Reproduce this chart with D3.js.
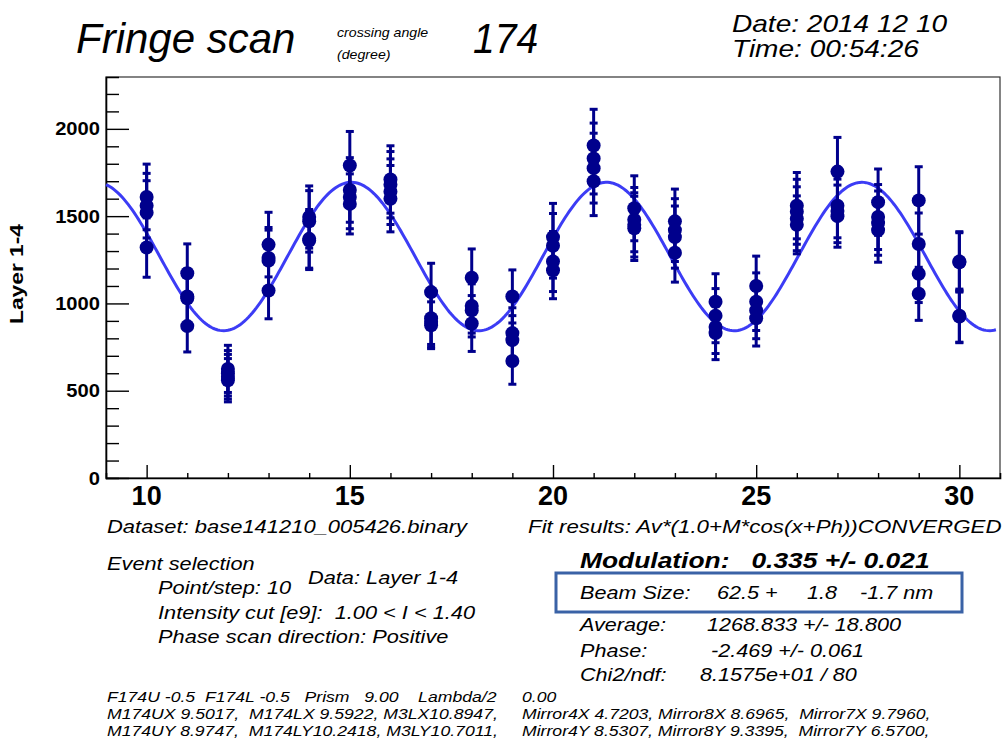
<!DOCTYPE html>
<html>
<head>
<meta charset="utf-8">
<script src="https://cdn.jsdelivr.net/npm/d3@7"></script>
<style>
  body { margin: 0; background: #fff; }
  text { font-family: "Liberation Sans", Arial, Helvetica, sans-serif; fill: #000; white-space: pre; }
</style>
</head>
<body>
<svg id="chart" width="1006" height="742"></svg>
<script>

// scan steps (phase, degree) and the events measured at each step
var steps = [10, 11, 12, 13, 14, 15, 16, 17, 18, 19, 20, 21, 22, 23, 24, 25, 26, 27, 28, 29, 30]

var counts = [
    [1610, 1560, 1520, 1320],
    [1173, 1040, 1030, 870],
    [625, 600, 580, 560],
    [1337, 1260, 1245, 1074],
    [1495, 1470, 1370, 1360],
    [1790, 1650, 1610, 1570],
    [1710, 1680, 1640, 1600],
    [1065, 915, 895, 875],
    [1147, 985, 960, 885],
    [1040, 830, 790, 670],
    [1380, 1330, 1240, 1190],
    [1905, 1830, 1775, 1700],
    [1545, 1480, 1450, 1430],
    [1470, 1420, 1380, 1290],
    [1010, 930, 865, 830],
    [1100, 1010, 960, 915],
    [1560, 1525, 1485, 1450],
    [1755, 1560, 1530, 1500],
    [1580, 1495, 1460, 1420],
    [1590, 1340, 1170, 1055],
    [1240, 1235, 930, 925]
]

var errors = [
    [188, 185, 183, 170],
    [168, 158, 158, 148],
    [135, 130, 128, 124],
    [185, 175, 175, 162],
    [178, 176, 168, 166],
    [195, 185, 182, 172],
    [193, 190, 188, 190],
    [165, 150, 145, 134],
    [165, 155, 152, 160],
    [152, 145, 140, 133],
    [193, 185, 172, 163],
    [207, 203, 200, 197],
    [186, 184, 184, 184],
    [185, 180, 178, 168],
    [160, 155, 152, 152],
    [171, 165, 162, 159],
    [190, 186, 183, 166],
    [196, 184, 182, 178],
    [190, 186, 184, 184],
    [193, 178, 165, 152],
    [171, 170, 152, 150]
]

// fit results: Av*(1.0+M*cos(x+Ph))
var fitAverage = 1268.833
var fitModulation = 0.335
var fitPhase = -2.469
var fitRange = [9, 30.9]

var xTickLabels = [10, 15, 20, 25, 30]
var yTickLabels = [0, 500, 1000, 1500, 2000]

// mirror / prism settings, left and right column
var summaryLeft = [
    "F174U -0.5  F174L -0.5   Prism   9.00    Lambda/2",
    "M174UX 9.5017,  M174LX 9.5922, M3LX10.8947,",
    "M174UY 8.9747,  M174LY10.2418, M3LY10.7011,"
]
var summaryRight = [
    "0.00",
    "Mirror4X 4.7203, Mirror8X 8.6965,  Mirror7X 9.7960,",
    "Mirror4Y 8.5307, Mirror8Y 9.3395,  Mirror7Y 6.5700,"
]


var svg = d3.select("#chart")
var frame = {left: 106, right: 1000, top: 77, bottom: 478}

var x = d3.scaleLinear().domain([9, 31]).range([frame.left, frame.right])
var y = d3.scaleLinear().domain([0, 2297]).range([frame.bottom, frame.top])

var markColor = "#00008c"
var curveColor = "#3c3cf5"

//Text helper: the ROOT fonts here are a bit wider than Arial, so stretch them
function put(str, px, py, size, sx, opts) {
    opts = opts || {}
    return svg.append("text")
        .attr("transform", "translate(" + px + "," + py + ")" + (opts.rotate ? " rotate(" + opts.rotate + ")" : "") + " scale(" + sx + ",1)")
        .attr("font-size", size)
        .attr("font-style", opts.italic === false ? "normal" : "italic")
        .attr("font-weight", opts.bold ? "bold" : "normal")
        .attr("text-anchor", opts.anchor || "start")
        .text(str)
}


// header
put("Fringe scan", 76, 53, 42, 1.0)
put("crossing angle", 337, 37, 12, 1.18)
put("(degree)", 337, 59, 12, 1.18)
put("174", 473, 53, 42, 0.93)
put("Date: 2014 12 10", 732, 32, 23, 1.22)
put("Time: 00:54:26", 732, 57, 23, 1.22)


// frame
svg.append("rect")
    .attr("x", frame.left)
    .attr("y", frame.top)
    .attr("width", frame.right - frame.left)
    .attr("height", frame.bottom - frame.top)
    .attr("fill", "none")
    .attr("stroke", "#333")
    .attr("stroke-width", 1.2)

// y axis: ticks inside the frame
var yAxis = d3.axisRight(y)
    .tickValues(d3.range(0, 2300, 100))
    .tickSize(13)
    .tickFormat("")
var gy = svg.append("g")
    .attr("transform", "translate(" + frame.left + ",0)")
    .call(yAxis)
gy.select(".domain").attr("stroke", "#000").attr("stroke-width", 1.6)
gy.selectAll(".tick line")
    .attr("stroke", "#000")
    .attr("stroke-width", 1.4)
    .attr("x2", function(d) { return d % 500 == 0 ? 23 : 13 })

gy.selectAll(".ylab")
    .data(yTickLabels)
    .enter()
    .append("text")
    .attr("class", "ylab")
    .attr("transform", function(d) { return "translate(" + (100 - frame.left) + "," + (y(d) + 6.5) + ") scale(1.12,1)" })
    .attr("text-anchor", "end")
    .attr("font-size", 18)
    .attr("font-weight", "bold")
    .text(function(d) { return d })

// x axis: ticks pointing up
var xAxis = d3.axisTop(x)
    .tickValues(d3.range(10, 31, 1))
    .tickSize(5)
    .tickFormat("")
var gx = svg.append("g")
    .attr("transform", "translate(0," + frame.bottom + ")")
    .call(xAxis)
gx.select(".domain").attr("stroke", "#000").attr("stroke-width", 1.6)
gx.selectAll(".tick line")
    .attr("stroke", "#000")
    .attr("stroke-width", 1.4)
    .attr("y2", function(d) { return d % 5 == 0 ? -13 : -5 })

gx.selectAll(".xlab")
    .data(xTickLabels)
    .enter()
    .append("text")
    .attr("class", "xlab")
    .attr("x", function(d) { return x(d) })
    .attr("y", 505 - frame.bottom)
    .attr("text-anchor", "middle")
    .attr("font-size", 27)
    .attr("font-weight", "bold")
    .text(function(d) { return d })

put("Layer 1-4", 23, 274, 19, 1.2, {italic: false, bold: true, anchor: "middle", rotate: -90})


// flatten the measurements into points
var points = []
steps.forEach(function(s, i) {
    counts[i].forEach(function(c, j) {
        points.push({step: s, count: c, err: errors[i][j]})
    })
})

var plot = svg.append("g")

// fitted curve
var fitLine = d3.line()
    .x(function(d) { return x(d) })
    .y(function(d) { return y(fitAverage * (1.0 + fitModulation * Math.cos(d + fitPhase))) })

plot.append("path")
    .datum(d3.range(fitRange[0], fitRange[1] + 0.001, 0.05))
    .attr("d", fitLine)
    .attr("fill", "none")
    .attr("stroke", curveColor)
    .attr("stroke-width", 3)

// error bars
var bars = plot.selectAll(".errbar")
    .data(points)
    .enter()
    .append("g")
    .attr("class", "errbar")

bars.append("line")
    .attr("x1", function(d) { return x(d.step) })
    .attr("x2", function(d) { return x(d.step) })
    .attr("y1", function(d) { return y(d.count + d.err) })
    .attr("y2", function(d) { return y(d.count - d.err) })
    .attr("stroke", markColor)
    .attr("stroke-width", 3)

bars.selectAll(".cap")
    .data(function(d) { return [d.count + d.err, d.count - d.err].map(function(v) { return {step: d.step, v: v} }) })
    .enter()
    .append("line")
    .attr("class", "cap")
    .attr("x1", function(d) { return x(d.step) - 4 })
    .attr("x2", function(d) { return x(d.step) + 4 })
    .attr("y1", function(d) { return y(d.v) })
    .attr("y2", function(d) { return y(d.v) })
    .attr("stroke", markColor)
    .attr("stroke-width", 3)

// markers
plot.selectAll(".pt")
    .data(points)
    .enter()
    .append("circle")
    .attr("class", "pt")
    .attr("cx", function(d) { return x(d.step) })
    .attr("cy", function(d) { return y(d.count) })
    .attr("r", 7)
    .attr("fill", markColor)


// text below the frame
put("Dataset: base141210_005426.binary", 107, 533, 18, 1.22)
put("Fit results: Av*(1.0+M*cos(x+Ph))CONVERGED", 528, 533, 18, 1.24)

put("Event selection", 107, 570, 18, 1.21)
put("Point/step: 10", 158, 594, 18, 1.21)
put("Data: Layer 1-4", 308, 584, 18, 1.21)
put("Intensity cut [e9]:  1.00 < I < 1.40", 158, 619, 18, 1.21)
put("Phase scan direction: Positive", 158, 643, 18, 1.21)

put("Modulation:   0.335 +/- 0.021", 580, 568, 22, 1.2, {bold: true})

svg.append("rect")
    .attr("x", 556)
    .attr("y", 573)
    .attr("width", 406)
    .attr("height", 39)
    .attr("fill", "none")
    .attr("stroke", "#3a62a6")
    .attr("stroke-width", 3)

put("Beam Size:", 580, 599, 18, 1.2)
put("62.5 +", 717, 599, 18, 1.2)
put("1.8", 807, 599, 18, 1.2)
put("-1.7 nm", 860, 599, 18, 1.2)

put("Average:", 580, 631, 18, 1.2)
put("1268.833 +/- 18.800", 707, 631, 18, 1.2)
put("Phase:", 580, 657, 18, 1.2)
put("-2.469 +/- 0.061", 711, 657, 18, 1.2)
put("Chi2/ndf:", 580, 681, 18, 1.2)
put("8.1575e+01 / 80", 700, 681, 18, 1.2)

var summaryY = [702, 719, 736]
summaryLeft.forEach(function(str, i) {
    put(str, 107, summaryY[i], 14, 1.26)
})
summaryRight.forEach(function(str, i) {
    put(str, 522, summaryY[i], 14, 1.26)
})

</script>
</body>
</html>
